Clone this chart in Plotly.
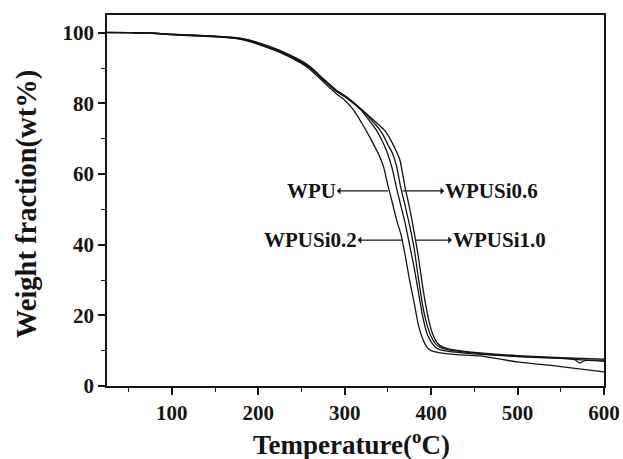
import plotly.graph_objects as go

# ---- data ----
t_early = [25, 50, 75, 100, 125, 150, 175, 190, 200, 225, 250, 260, 275, 290]

wpu_x = t_early + [300, 310, 320, 330, 335, 340, 345, 350, 355, 360, 365, 370, 375,
                   380, 385, 390, 395, 400, 410, 430, 456, 500, 550, 600]
wpu_y = [100.1, 100.0, 99.9, 99.4, 99.1, 98.8, 98.3, 97.5, 96.7, 94.4, 91.3, 89.6, 86.2, 82.8,
         80.9, 78.2, 74.3, 70.0, 67.6, 65.2, 62.0, 56.7, 52.0, 47.0, 43.0, 37.0, 30.0,
         24.0, 17.5, 13.5, 11.0, 10.0, 9.4, 8.9, 8.5, 6.8, 5.5, 4.0]

si02_x = t_early + [300, 310, 320, 330, 337, 345, 350, 355, 360, 365, 370, 375, 380,
                    385, 390, 395, 400, 405, 410, 420, 450, 500, 550, 575, 600]
si02_y = [100.0, 100.0, 99.9, 99.5, 99.2, 98.9, 98.4, 97.7, 96.9, 94.6, 91.6, 90.0, 86.7, 83.4,
          81.9, 80.0, 77.8, 74.6, 72.3, 68.5, 65.5, 61.5, 56.0, 51.0, 46.0, 40.0, 34.0,
          27.0, 20.0, 15.0, 12.5, 11.0, 10.3, 9.8, 9.1, 8.3, 7.8, 7.4, 7.3]

si06_x = t_early + [300, 310, 320, 330, 340, 345, 350, 355, 360, 365, 370, 375, 380,
                    385, 390, 395, 400, 405, 410, 420, 450, 500, 550, 565, 572, 578, 600]
si06_y = [100.1, 100.0, 99.8, 99.5, 99.3, 99.0, 98.5, 97.8, 97.0, 94.8, 91.8, 90.2, 86.9, 83.6,
          82.0, 80.2, 78.0, 75.5, 72.7, 70.8, 68.3, 66.0, 62.2, 56.0, 51.0, 45.5, 39.5,
          31.0, 23.0, 17.5, 14.0, 12.0, 11.0, 10.2, 9.3, 8.4, 7.9, 7.6, 6.5, 7.2, 7.0]

si10_x = t_early + [300, 310, 320, 330, 340, 346, 350, 355, 360, 364, 370, 375, 380,
                    385, 390, 395, 400, 405, 410, 420, 450, 500, 550, 600]
si10_y = [100.0, 100.0, 99.9, 99.6, 99.3, 99.0, 98.6, 97.9, 97.2, 95.0, 92.0, 90.4, 87.0, 83.8,
          82.2, 80.3, 78.2, 76.0, 73.8, 72.4, 71.0, 68.8, 66.3, 63.9, 56.0, 50.5, 44.0,
          37.0, 28.5, 21.3, 16.0, 13.0, 11.5, 10.5, 9.5, 8.6, 8.0, 7.6]

series = [("WPU", wpu_x, wpu_y), ("WPUSi0.2", si02_x, si02_y),
          ("WPUSi0.6", si06_x, si06_y), ("WPUSi1.0", si10_x, si10_y)]

x_ticks = [100, 200, 300, 400, 500, 600]
y_ticks = [0, 20, 40, 60, 80, 100]

FONT = "Liberation Serif"
INK = "#141414"

fig = go.Figure()
for name, xs, ys in series:
    fig.add_trace(go.Scatter(x=xs, y=ys, mode="lines", name=name,
                             line=dict(color=INK, width=1.3, shape="spline", smoothing=0.5),
                             showlegend=False))

lab_font = dict(family=FONT, size=21, color=INK, weight="bold")

# labels with arrows: (text, point on curve x, text-side x, y, anchor)
labels = [
    ("WPU", 350, 291.0, 55.2, "right"),
    ("WPUSi0.6", 367, 415.0, 55.2, "left"),
    ("WPUSi0.2", 367, 315.0, 41.3, "right"),
    ("WPUSi1.0", 382, 424.0, 41.3, "left"),
]
for text, cx, tx, y, anc in labels:
    fig.add_annotation(x=cx, y=y, ax=tx, ay=y, axref="x", ayref="y", xref="x", yref="y",
                       text=text, showarrow=True, arrowside="start", arrowhead=2,
                       arrowsize=1.2, arrowwidth=1.2, arrowcolor=INK,
                       standoff=0, startstandoff=0, xanchor=anc, yanchor="middle",
                       borderpad=0, font=lab_font)

# axis titles as paper-positioned annotations
fig.add_annotation(x=0.491, y=-0.154, xref="paper", yref="paper", showarrow=False,
                   text="Temperature(<sup>o</sup>C)", xanchor="center", yanchor="middle",
                   font=dict(family=FONT, size=27, color=INK, weight="bold"))
fig.add_annotation(x=-0.161, y=0.49, xref="paper", yref="paper", showarrow=False,
                   text="Weight fraction(wt%)", textangle=-90, xanchor="center", yanchor="middle",
                   font=dict(family=FONT, size=28.5, color=INK, weight="bold"))

axis_common = dict(showline=True, linewidth=1.6, linecolor=INK, mirror=True,
                   ticks="outside", ticklen=7, tickwidth=1.5, tickcolor=INK,
                   showgrid=False, zeroline=False, automargin=False,
                   tickfont=dict(family=FONT, size=21, color=INK, weight="bold"))

fig.update_xaxes(range=[25, 600], tickvals=x_ticks, ticktext=[str(v) for v in x_ticks],
                 minor=dict(dtick=50, tick0=0, ticks="outside", ticklen=4, tickwidth=1.3, tickcolor=INK),
                 **axis_common)
fig.update_yaxes(range=[0, 105], tickvals=y_ticks, ticktext=[str(v) for v in y_ticks],
                 minor=dict(dtick=10, tick0=0, ticks="outside", ticklen=4, tickwidth=1.3, tickcolor=INK),
                 **axis_common)

fig.update_layout(width=623, height=459, margin=dict(l=107, r=19, t=15, b=73),
                  plot_bgcolor="white", paper_bgcolor="white")

fig.write_html("out.html")
